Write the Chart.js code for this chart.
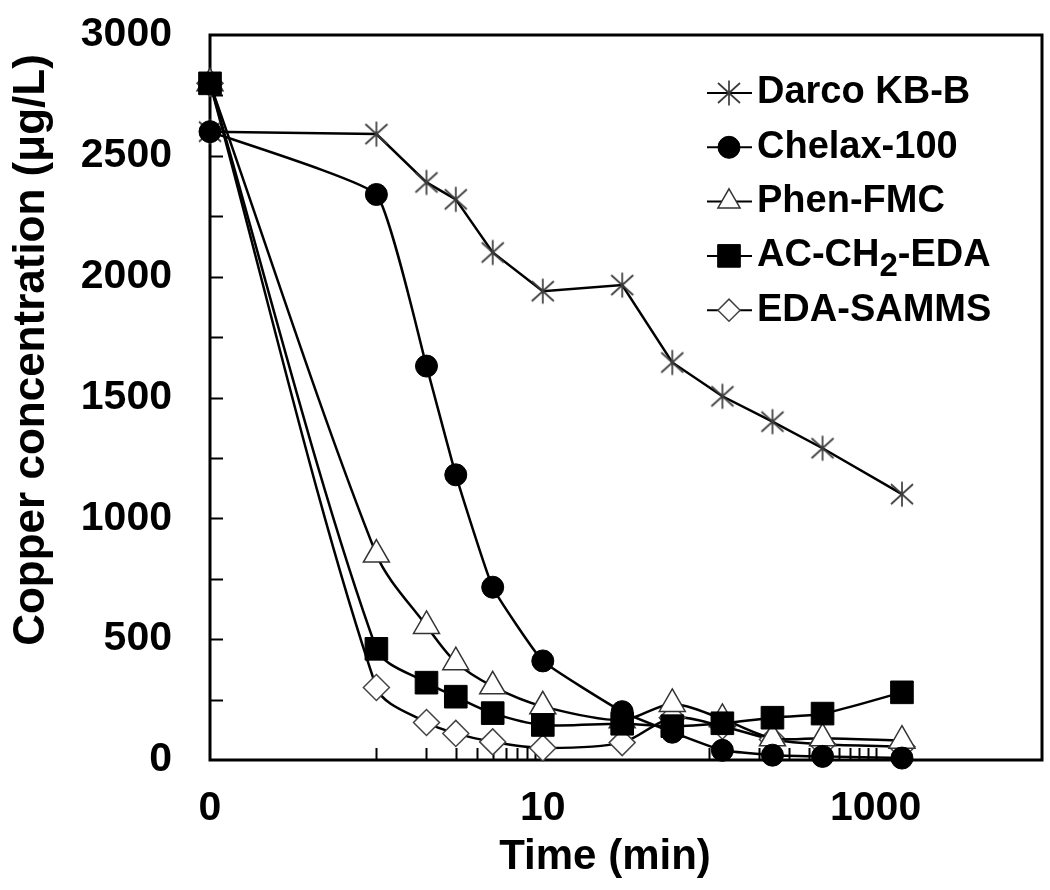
<!DOCTYPE html>
<html>
<head>
<meta charset="utf-8">
<script src="https://cdn.jsdelivr.net/npm/chart.js@4/dist/chart.umd.min.js"></script>
<style>
  html, body { margin: 0; padding: 0; background: #ffffff; }
  #wrap { width: 1050px; height: 890px; }
  canvas { display: block; }
</style>
</head>
<body>
<div id="wrap"><canvas id="chart" width="1050" height="890"></canvas></div>
<script>
// ---------------- data ----------------
const times      = [0, 1, 2, 3, 5, 10, 30, 60, 120, 240, 480, 1440];          // min
const darcoKBB   = [2600, 2590, 2390, 2320, 2100, 1940, 1965, 1645, 1505, 1400, 1290, 1100];
const chelax100  = [2600, 2340, 1630, 1180, 715, 410, 200, 115, 40, 20, 15, 8];
const phenFMC    = [2800, 850, 555, 405, 305, 222, 165, 232, 170, 90, 90, 80];
const acCH2EDA   = [2800, 460, 320, 262, 194, 145, 150, 140, 152, 175, 192, 280];
const edaSAMMS   = [2800, 300, 155, 110, 75, 50, 72, 175, 140, 85, 65, 55];

const seriesNames = ['Darco KB-B', 'Chelax-100', 'Phen-FMC', 'AC-CH2-EDA', 'EDA-SAMMS'];

// log axis: time 0 is drawn at the axis minimum, which is labelled "0"
const xAxisMin = 0.1;
const xAxisMax = 10000;
const xTickValues = [0.1, 1, 2, 3, 4, 5, 6, 7, 8, 9, 10, 100, 200, 300, 400, 500, 600, 700, 800, 900, 1000];
const xTickLabelValues = [0.1, 10, 1000];
const xTickLabelTexts  = ['0', '10', '1000'];
const yAxisMin = 0, yAxisMax = 3000, yTickStep = 250, yLabelStep = 500;

const xTitle = 'Time (min)';
const yTitle = 'Copper concentration (\u03BCg/L)';

// ---------------- styling ----------------
const FONT = '"Liberation Sans", Arial, Helvetica, sans-serif';

function makeAsterisk() {
  const c = document.createElement('canvas');
  c.width = 28; c.height = 28;
  const g = c.getContext('2d');
  g.strokeStyle = '#3c3c3c';
  g.lineWidth = 1.7;
  g.beginPath();
  g.moveTo(14, 1.5); g.lineTo(14, 26.5);
  g.moveTo(3, 4);  g.lineTo(25, 24);
  g.moveTo(25, 4); g.lineTo(3, 24);
  g.stroke();
  return c;
}
const asterisk = makeAsterisk();

const toXY = (vals) => vals.map((v, i) => ({ x: times[i] === 0 ? xAxisMin : times[i], y: v }));

const seriesStyles = [
  { pointStyle: asterisk, radius: 12, bg: 'rgba(0,0,0,0)', border: '#3c3c3c', bw: 1.5, tension: 0, order: 2 },
  { pointStyle: 'circle',  radius: 11, bg: '#000000', border: '#000000', bw: 1, tension: 0.12, order: 1 },
  { pointStyle: 'triangle', radius: 15, bg: '#ffffff', border: '#333333', bw: 1.5, tension: 0.3, order: 3 },
  { pointStyle: 'rect',    radius: 16, bg: '#000000', border: '#000000', bw: 1, tension: 0.3, order: 0 },
  { pointStyle: 'rectRot', radius: 13, bg: '#ffffff', border: '#444444', bw: 1.5, tension: 0.3, order: 4 }
];
const seriesValues = [darcoKBB, chelax100, phenFMC, acCH2EDA, edaSAMMS];

const datasets = seriesValues.map((vals, i) => {
  const s = seriesStyles[i];
  return {
    label: seriesNames[i],
    data: toXY(vals),
    borderColor: '#000000',
    borderWidth: 2.5,
    tension: s.tension,
    fill: false,
    pointStyle: s.pointStyle,
    pointRadius: s.radius,
    pointHoverRadius: s.radius,
    pointBackgroundColor: s.bg,
    pointBorderColor: s.border,
    pointBorderWidth: s.bw,
    clip: false,
    order: s.order
  };
});

// ---------------- plugins ----------------
const frameAndTicks = {
  id: 'frameAndTicks',
  beforeDatasetsDraw(chart) {
    const { ctx, chartArea: a, scales: { x, y } } = chart;
    ctx.save();
    ctx.strokeStyle = '#000';
    ctx.lineWidth = 2;
    ctx.beginPath();
    x.ticks.forEach(t => {
      const px = Math.round(x.getPixelForValue(t.value)) + 0.5;
      if (px <= a.left + 2 || px >= a.right - 2) return;
      ctx.moveTo(px, a.bottom);
      ctx.lineTo(px, a.bottom - 12);
    });
    y.ticks.forEach(t => {
      const py = Math.round(y.getPixelForValue(t.value)) + 0.5;
      if (py <= a.top + 2 || py >= a.bottom - 2) return;
      ctx.moveTo(a.left, py);
      ctx.lineTo(a.left + 13, py);
    });
    ctx.stroke();
    ctx.lineWidth = 3;
    ctx.strokeRect(a.left, a.top, a.right - a.left, a.bottom - a.top);
    ctx.restore();
  }
};

function drawMarker(ctx, style, cx, cy) {
  ctx.save();
  ctx.fillStyle = style.bg;
  ctx.strokeStyle = style.border;
  ctx.lineWidth = style.bw;
  const r = style.radius;
  if (style.pointStyle instanceof HTMLCanvasElement) {
    ctx.drawImage(style.pointStyle, cx - style.pointStyle.width / 2, cy - style.pointStyle.height / 2);
  } else if (style.pointStyle === 'circle') {
    ctx.beginPath(); ctx.arc(cx, cy, r, 0, Math.PI * 2); ctx.fill(); ctx.stroke();
  } else if (style.pointStyle === 'rect') {
    const h = r * Math.SQRT1_2;
    ctx.beginPath(); ctx.rect(cx - h, cy - h, 2 * h, 2 * h); ctx.fill(); ctx.stroke();
  } else if (style.pointStyle === 'triangle') {
    const rr = r * 0.85;
    ctx.beginPath();
    ctx.moveTo(cx, cy - rr);
    ctx.lineTo(cx + rr * Math.sin(Math.PI / 3), cy + rr / 2);
    ctx.lineTo(cx - rr * Math.sin(Math.PI / 3), cy + rr / 2);
    ctx.closePath(); ctx.fill(); ctx.stroke();
  } else if (style.pointStyle === 'rectRot') {
    const rr = r * 0.85;
    ctx.beginPath();
    ctx.moveTo(cx, cy - rr); ctx.lineTo(cx + rr, cy); ctx.lineTo(cx, cy + rr); ctx.lineTo(cx - rr, cy);
    ctx.closePath(); ctx.fill(); ctx.stroke();
  }
  ctx.restore();
}

const legendAndTitles = {
  id: 'legendAndTitles',
  afterDraw(chart) {
    const { ctx, chartArea: a } = chart;
    ctx.save();
    // legend inside the plot, top right
    const lx0 = a.left + 497, lx1 = a.left + 542, mx = a.left + 519, tx = a.left + 547;
    const rowTop = a.top + 58, rowGap = 54.3;
    ctx.fillStyle = '#000';
    ctx.textBaseline = 'middle';
    ctx.textAlign = 'left';
    seriesNames.forEach((name, i) => {
      const ry = rowTop + i * rowGap;
      ctx.strokeStyle = '#000'; ctx.lineWidth = 2;
      ctx.beginPath(); ctx.moveTo(lx0, ry); ctx.lineTo(lx1, ry); ctx.stroke();
      drawMarker(ctx, seriesStyles[i], mx, ry);
      ctx.font = 'bold 38px ' + FONT;
      const m = name.match(/^(.*CH)(2)(-.*)$/);
      if (m) {
        let x = tx;
        ctx.fillText(m[1], x, ry); x += ctx.measureText(m[1]).width;
        ctx.font = 'bold 33px ' + FONT;
        ctx.fillText(m[2], x, ry + 11); x += ctx.measureText(m[2]).width;
        ctx.font = 'bold 38px ' + FONT;
        ctx.fillText(m[3], x, ry);
      } else {
        ctx.fillText(name, tx, ry);
      }
    });
    // axis titles
    ctx.font = 'bold 42px ' + FONT;
    ctx.textAlign = 'center';
    ctx.textBaseline = 'middle';
    ctx.fillText(xTitle, 605, 857);
    ctx.save();
    ctx.translate(32, 350);
    ctx.rotate(-Math.PI / 2);
    ctx.font = 'bold 44px ' + FONT;
    ctx.fillText(yTitle, 0, 0);
    ctx.restore();
    ctx.restore();
  }
};

// ---------------- chart ----------------
new Chart(document.getElementById('chart'), {
  type: 'line',
  data: { datasets },
  options: {
    responsive: false,
    animation: false,
    devicePixelRatio: 1,
    layout: { autoPadding: false, padding: { top: 35, right: 8, left: 0, bottom: 0 } },
    plugins: { legend: { display: false }, tooltip: { enabled: false } },
    elements: { line: { capBezierPoints: true } },
    scales: {
      x: {
        type: 'logarithmic',
        min: xAxisMin,
        max: xAxisMax,
        grid: { display: false, drawTicks: false },
        border: { display: false },
        afterBuildTicks: (s) => { s.ticks = xTickValues.map(v => ({ value: v })); },
        afterFit: (s) => { s.height = 130; s.paddingLeft = 0; s.paddingRight = 0; },
        ticks: {
          autoSkip: false,
          maxRotation: 0,
          minRotation: 0,
          padding: 24,
          color: '#000',
          font: { family: FONT, size: 41, weight: 'bold' },
          callback: (v) => {
            const k = xTickLabelValues.findIndex(t => Math.abs(t - v) < 1e-9 * Math.max(1, t));
            return k >= 0 ? xTickLabelTexts[k] : '';
          }
        }
      },
      y: {
        min: yAxisMin,
        max: yAxisMax,
        grid: { display: false, drawTicks: false },
        border: { display: false },
        afterFit: (s) => { s.width = 210; s.paddingTop = 0; s.paddingBottom = 0; },
        ticks: {
          stepSize: yTickStep,
          autoSkip: false,
          padding: 38,
          color: '#000',
          font: { family: FONT, size: 41, weight: 'bold' },
          callback: (v) => (v % yLabelStep === 0 ? String(v) : '')
        }
      }
    }
  },
  plugins: [frameAndTicks, legendAndTitles]
});
</script>
</body>
</html>
